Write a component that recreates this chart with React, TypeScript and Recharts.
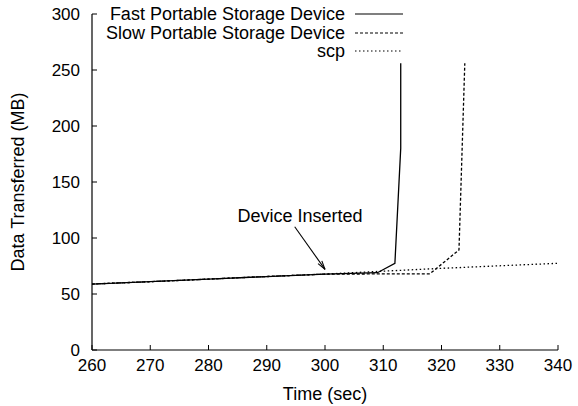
import React from "react";
import {
  Label,
  Legend,
  Line,
  LineChart,
  ReferenceDot,
  ReferenceLine,
  XAxis,
  YAxis,
} from "recharts";

const FONT = "'Liberation Sans', Arial, Helvetica, sans-serif";

// shared part before the device is inserted
const baseTime = [260, 270, 280, 290, 300];
const baseMB = [58.9, 61, 63.3, 65.6, 67.8];

const fastTime = [...baseTime, 309, 312, 313, 313];
const fastMB = [...baseMB, 69, 77.4, 180, 256];

const slowTime = [...baseTime, 318, 323, 324];
const slowMB = [...baseMB, 68, 89.3, 256];

const scpTime = [...baseTime, 310, 320, 330, 340];
const scpMB = [...baseMB, 70.4, 72.9, 75.2, 77.4];

const xTicks = [260, 270, 280, 290, 300, 310, 320, 330, 340];
const yTicks = [0, 50, 100, 150, 200, 250, 300];

const toRows = (t: number[], v: number[]) => t.map((x, i) => ({ t: x, v: v[i] }));

const fast = toRows(fastTime, fastMB);
const slow = toRows(slowTime, slowMB);
const scp = toRows(scpTime, scpMB);

const series = [
  { name: "Fast Portable Storage Device", data: fast, dash: undefined },
  { name: "Slow Portable Storage Device", data: slow, dash: "3 2" },
  { name: "scp", data: scp, dash: "1.5 2.5" },
];

const LegendBox = () => (
  <div style={{ fontFamily: FONT, fontSize: 18, color: "#000" }}>
    {series.map((s) => (
      <div
        key={s.name}
        style={{
          display: "flex",
          justifyContent: "flex-end",
          alignItems: "center",
          height: 18.5,
        }}
      >
        <span style={{ lineHeight: "18px", whiteSpace: "nowrap" }}>{s.name}</span>
        <svg width={58} height={10} style={{ display: "block" }}>
          <line
            x1={10}
            x2={58}
            y1={5}
            y2={5}
            stroke="#000"
            strokeWidth={1.2}
            strokeDasharray={s.dash}
          />
        </svg>
      </div>
    ))}
  </div>
);

const Arrow = (p: any) => {
  const { x1, y1, x2, y2 } = p;
  if (x1 == null || y1 == null) return null;
  const a = Math.atan2(y2 - y1, x2 - x1);
  const len = 9;
  const spread = (15 * Math.PI) / 180;
  const hx1 = x2 - len * Math.cos(a - spread);
  const hy1 = y2 - len * Math.sin(a - spread);
  const hx2 = x2 - len * Math.cos(a + spread);
  const hy2 = y2 - len * Math.sin(a + spread);
  return (
    <g stroke="#000" strokeWidth={1.1} fill="none">
      <line x1={x1} y1={y1} x2={x2} y2={y2} />
      <line x1={hx1} y1={hy1} x2={x2} y2={y2} />
      <line x1={hx2} y1={hy2} x2={x2} y2={y2} />
    </g>
  );
};

export default function App() {
  const tickStyle = { fontSize: 17, fill: "#000", fontFamily: FONT };
  return (
    <div style={{ position: "absolute", left: 0, top: 0, fontFamily: FONT }}>
      <LineChart
        width={578}
        height={406}
        margin={{ top: 14, right: 20, bottom: 0, left: 0 }}
      >
        <XAxis
          type="number"
          dataKey="t"
          domain={[260, 340]}
          ticks={xTicks}
          allowDataOverflow
          height={56}
          stroke="#000"
          tickSize={-5}
          tickMargin={14}
          tick={tickStyle}
          axisLine={{ stroke: "#000", strokeWidth: 1.2 }}
        >
          <Label
            content={(props: any) => {
              const vb = props.viewBox;
              return (
                <text
                  x={vb.x + vb.width / 2}
                  y={vb.y + 44}
                  textAnchor="middle"
                  dominantBaseline="central"
                  fontSize={18}
                  fontFamily={FONT}
                  fill="#000"
                >
                  Time (sec)
                </text>
              );
            }}
          />
        </XAxis>
        <YAxis
          type="number"
          dataKey="v"
          domain={[0, 300]}
          ticks={yTicks}
          width={92}
          stroke="#000"
          tickSize={-5}
          tickMargin={17}
          tick={tickStyle}
          axisLine={{ stroke: "#000", strokeWidth: 1.2 }}
        >
          <Label
            content={(props: any) => {
              const vb = props.viewBox;
              const cx = 18;
              const cy = vb.y + vb.height / 2;
              return (
                <text
                  x={cx}
                  y={cy}
                  transform={`rotate(-90 ${cx} ${cy})`}
                  textAnchor="middle"
                  dominantBaseline="central"
                  fontSize={18}
                  fontFamily={FONT}
                  fill="#000"
                >
                  Data Transferred (MB)
                </text>
              );
            }}
          />
        </YAxis>
        <Legend
          layout="vertical"
          align="center"
          verticalAlign="middle"
          content={() => <LegendBox />}
          wrapperStyle={{ top: 5, left: 0, right: "auto", bottom: "auto", width: 403 }}
        />
        {[...series].reverse().map((s) => (
          <Line
            key={s.name}
            data={s.data}
            dataKey="v"
            name={s.name}
            type="linear"
            stroke="#000"
            strokeWidth={1.3}
            strokeDasharray={s.dash}
            dot={false}
            activeDot={false}
            isAnimationActive={false}
          />
        ))}
        <ReferenceLine
          segment={[
            { x: 294.8, y: 110 },
            { x: 300, y: 72 },
          ]}
          shape={Arrow}
        />
        <ReferenceDot
          x={295.7}
          y={119.6}
          r={0}
          fill="none"
          stroke="none"
          label={{
            value: "Device Inserted",
            position: "center",
            fontSize: 18,
            fill: "#000",
            fontFamily: FONT,
          }}
        />
      </LineChart>
    </div>
  );
}
